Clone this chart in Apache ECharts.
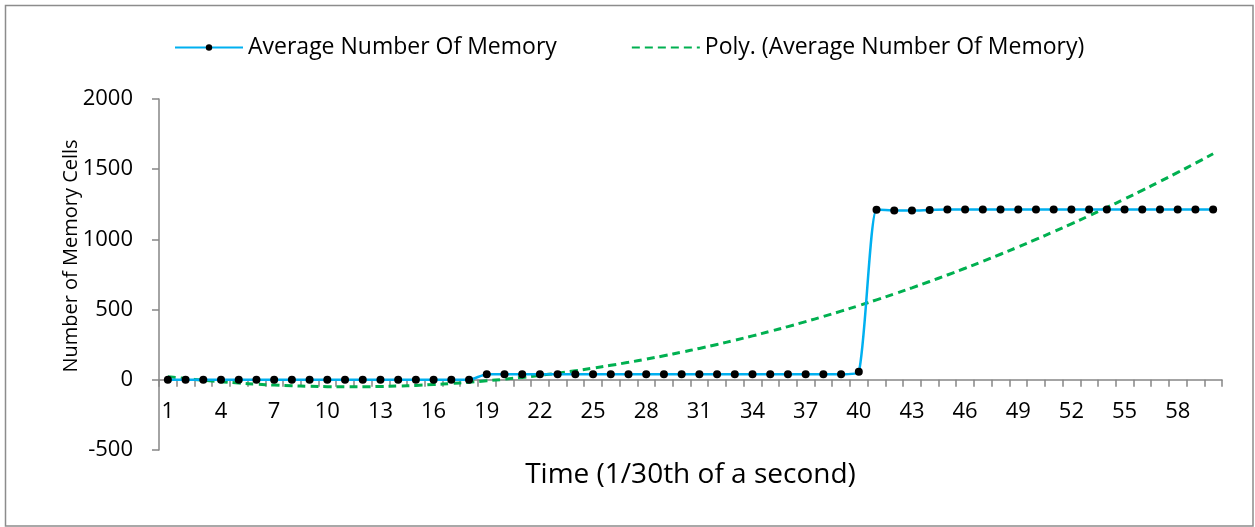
<!DOCTYPE html>
<html><head><meta charset="utf-8">
<script src="https://cdn.jsdelivr.net/npm/echarts@6/dist/echarts.min.js"></script>
<style>html,body{margin:0;padding:0;background:#fff}#c{width:1255px;height:527px}</style>
</head><body><div id="c"></div>
<script>
const categories = Array.from({length: 60}, (_, i) => String(i + 1));
const avgMemory = [
  0,0,0,0,0,0,0,0,0,0,
  0,0,0,0,0,0,0,0,40,40,
  40,40,40,40,40,40,40,40,40,40,
  40,40,40,40,40,40,40,40,40,57,
  1212,1205,1205,1210,1213,1213,1213,1213,1213,1213,
  1213,1213,1213,1213,1213,1213,1213,1213,1213,1213
];
const yTicks = [-500, 0, 500, 1000, 1500, 2000];
const seriesName = 'Average Number Of Memory';
const trendName = 'Poly. (Average Number Of Memory)';

// Order-2 least squares trendline of the data (as Excel's "Poly." trendline)
function polyFit2(ys) {
  let S = [0,0,0,0,0], T = [0,0,0];
  ys.forEach((y, i) => {
    const x = i + 1;
    for (let k = 0; k < 5; k++) S[k] += Math.pow(x, k);
    for (let k = 0; k < 3; k++) T[k] += Math.pow(x, k) * y;
  });
  const A = [[S[0],S[1],S[2],T[0]],[S[1],S[2],S[3],T[1]],[S[2],S[3],S[4],T[2]]];
  for (let i = 0; i < 3; i++) {
    for (let j = i + 1; j < 3; j++) {
      const f = A[j][i] / A[i][i];
      for (let k = i; k < 4; k++) A[j][k] -= f * A[i][k];
    }
  }
  const c = [0,0,0];
  for (let i = 2; i >= 0; i--) {
    let s = A[i][3];
    for (let k = i + 1; k < 3; k++) s -= A[i][k] * c[k];
    c[i] = s / A[i][i];
  }
  return ys.map((_, i) => { const x = i + 1; return c[0] + c[1]*x + c[2]*x*x; });
}
const trend = polyFit2(avgMemory);

const GRID_TOP = 99, GRID_BOTTOM = 77, H = 527;
const plotH = H - GRID_TOP - GRID_BOTTOM;
const yMin = yTicks[0], yMax = yTicks[yTicks.length - 1];
const zeroOffset = -plotH * (0 - yMin) / (yMax - yMin);

const FONT = 'Open Sans';
const chart = echarts.init(document.getElementById('c'));
chart.setOption({
  animation: false,
  textStyle: {fontFamily: FONT},
  graphic: [{
    type: 'rect', shape: {x: 5.5, y: 5.5, width: 1247.5, height: 520.5},
    style: {fill: 'none', stroke: '#8c8c8c', lineWidth: 1.5}, silent: true, z: -1
  }],
  legend: {
    left: 169, top: 31,
    itemWidth: 68, itemHeight: 8, itemGap: 74,
    textStyle: {fontFamily: FONT, fontSize: 23, color: '#000'},
    data: [
      {name: seriesName},
      {name: trendName, itemStyle: {opacity: 0}}
    ]
  },
  grid: {left: 159, right: 33, top: GRID_TOP, bottom: GRID_BOTTOM, containLabel: false, outerBoundsMode: 'none'},
  xAxis: {
    type: 'category', data: categories, boundaryGap: true,
    offset: zeroOffset,
    name: 'Time (1/30th of a second)', nameLocation: 'middle', nameGap: 81, nameMoveOverlap: false,
    nameTextStyle: {fontFamily: FONT, fontSize: 28, color: '#000'},
    axisLine: {onZero: false, lineStyle: {color: '#868686', width: 1.5}},
    axisTick: {show: true, interval: 0, length: 7, lineStyle: {color: '#868686', width: 1.5}},
    axisLabel: {interval: 2, fontSize: 22, color: '#000', margin: 21, fontFamily: FONT}
  },
  yAxis: {
    type: 'value', min: yMin, max: yMax, interval: 500,
    name: 'Number of Memory Cells', nameLocation: 'middle', nameGap: 78, nameMoveOverlap: false,
    nameTextStyle: {fontFamily: FONT, fontSize: 20, color: '#000', padding: [0,0,0,37]},
    axisLine: {show: true, lineStyle: {color: '#868686', width: 1.5}},
    axisTick: {show: true, length: 7, lineStyle: {color: '#868686', width: 1.5}},
    axisLabel: {fontSize: 22, color: '#000', margin: 26, fontFamily: FONT, formatter: v => String(v)},
    splitLine: {show: false}
  },
  series: [
    {
      name: seriesName, type: 'line', data: avgMemory, smooth: 0.2,
      symbol: 'circle', symbolSize: 8,
      itemStyle: {color: '#000000'},
      lineStyle: {color: '#00B0F0', width: 2.5},
      z: 3
    },
    {
      name: trendName, type: 'line', data: trend, smooth: true,
      symbol: 'none',
      itemStyle: {color: '#00B050'},
      lineStyle: {color: '#00B050', width: 3, type: [8, 5]},
      z: 2
    }
  ]
});
</script></body></html>
